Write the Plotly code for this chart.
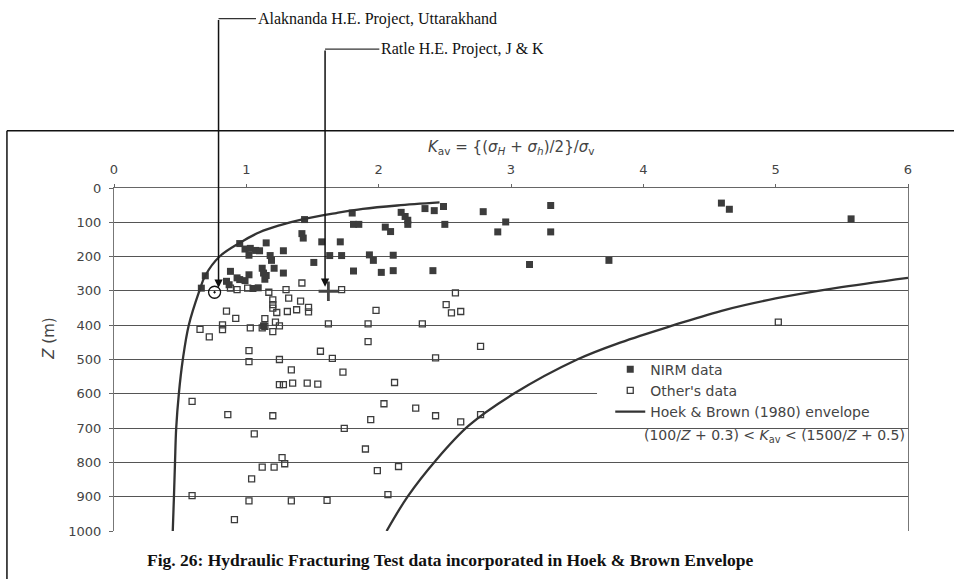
import plotly.graph_objects as go

# ---------------- data (K_av, Z in m) ----------------
nirm_k = [1.80, 1.81, 1.85, 2.17, 2.20, 2.22, 2.22, 2.05, 2.09, 2.35, 2.42, 2.49, 2.50, 2.79,
          1.71, 1.63, 1.72, 1.93, 1.96, 2.11, 1.81, 2.02, 2.11, 2.41, 2.96, 2.90, 3.30, 3.30,
          3.14, 3.74, 4.59, 4.65, 5.57, 1.44, 1.42, 1.43, 1.57, 1.15, 1.28, 1.51, 0.95, 0.99,
          1.03, 1.07, 1.10, 1.02, 1.18, 1.19, 1.21, 1.12, 1.13, 1.14, 1.28, 0.88, 1.02, 0.95,
          0.99, 0.85, 0.69, 0.66, 1.05, 1.09, 0.87, 0.93, 1.15, 1.13]
nirm_z = [73, 106, 106, 71, 83, 94, 106, 114, 127, 60, 66, 54, 106, 69,
          157, 197, 197, 195, 211, 196, 242, 246, 241, 241, 99, 128, 51, 128,
          223, 211, 44, 62, 90, 92, 133, 146, 157, 160, 183, 217, 162, 178,
          176, 182, 183, 196, 197, 211, 234, 234, 248, 266, 248, 243, 253, 267,
          270, 272, 256, 292, 293, 291, 282, 262, 255, 402]

other_k = [0.88, 0.93, 1.01, 1.17, 1.30, 1.42, 1.72, 1.32, 1.20, 1.41, 1.20, 1.23, 1.31, 1.38,
           1.47, 1.47, 0.85, 0.92, 0.65, 0.72, 0.82, 0.82, 1.03, 1.12, 1.14, 1.20, 1.14, 1.22,
           1.25, 1.98, 1.92, 2.58, 2.51, 2.55, 2.62, 1.62, 1.92, 2.33, 2.77, 2.43, 1.65, 1.73,
           2.12, 2.04, 2.28, 1.02, 1.02, 1.25, 1.34, 1.56, 1.25, 1.28, 1.35, 1.46, 1.54, 0.59,
           0.86, 1.20, 1.06, 1.74, 1.90, 1.27, 1.29, 1.12, 1.21, 1.04, 1.99, 2.15, 2.07, 0.59,
           1.02, 1.34, 1.61, 0.91, 1.94, 2.43, 2.62, 2.77, 5.02, 1.20]
other_z = [292, 296, 292, 304, 296, 277, 296, 321, 326, 330, 340, 363, 360, 355,
           348, 361, 359, 380, 412, 434, 399, 413, 408, 408, 403, 419, 381, 391,
           402, 357, 448, 306, 340, 364, 360, 396, 396, 396, 462, 495, 497, 537,
           567, 629, 642, 474, 506, 500, 530, 476, 573, 573, 569, 569, 572, 622,
           661, 664, 717, 701, 761, 786, 804, 814, 814, 848, 824, 812, 894, 897,
           912, 912, 911, 967, 675, 664, 682, 661, 391, 350]

# Hoek & Brown (1980) envelope
lower_k = [0.444, 0.453, 0.461, 0.47, 0.49, 0.52, 0.565, 0.645, 0.69, 0.80, 0.95, 1.10, 1.25,
           1.44, 1.68, 1.88, 2.14, 2.46]
lower_z = [1000, 900, 800, 700, 600, 500, 400, 300, 255, 199, 160, 129, 109, 90, 73, 61, 51, 42]
upper_k = [2.06, 2.22, 2.43, 2.68, 3.02, 3.50, 3.83, 4.23, 4.62, 5.00, 5.45, 6.0]
upper_z = [1000, 899, 795, 693, 600, 500, 450, 400, 355, 322, 292, 262]

# project sites
alak_k, alak_z = [0.76], [304]
ratle_k, ratle_z = [1.62], [301]
alak_arrow = (0.79, 291)
ratle_arrow = (1.595, 288)
alak_label = (1.073, -494)
ratle_label = (2.005, -405)

# white patch of the legend (hides the 600 m gridline behind it)
legend_patch_k = (3.65, 6.0)
legend_patch_z = (545, 655)

x_ticks = [0, 1, 2, 3, 4, 5, 6]
y_ticks = list(range(0, 1001, 100))

X_MAX, Z_MAX = 6.0, 1000.0
def px(k):
    return k / X_MAX
def py(z):
    return 1 - z / Z_MAX

INK = "#3c3c3c"
SANS = "DejaVu Sans"
SERIF = "Liberation Serif"

fig = go.Figure()
fig.add_trace(go.Scatter(x=nirm_k, y=nirm_z, mode="markers", name="NIRM data",
                         marker=dict(symbol="square", size=7, color=INK, line=dict(width=0))))
fig.add_trace(go.Scatter(x=other_k, y=other_z, mode="markers", name="Other's data",
                         marker=dict(symbol="square-open", size=6, color=INK, line=dict(width=1.3))))
fig.add_trace(go.Scatter(x=lower_k, y=lower_z, mode="lines", name="Hoek & Brown (1980) envelope",
                         line=dict(color="#333", width=2.3, shape="spline"), legendgroup="hb"))
fig.add_trace(go.Scatter(x=upper_k, y=upper_z, mode="lines", showlegend=False,
                         line=dict(color="#333", width=2.3, shape="spline"), legendgroup="hb"))
fig.add_trace(go.Scatter(x=alak_k, y=alak_z, mode="markers", showlegend=False,
                         marker=dict(symbol="circle-open-dot", size=12, color="#111", line=dict(width=1.3))))
fig.add_trace(go.Scatter(x=ratle_k, y=ratle_z, mode="markers", showlegend=False,
                         marker=dict(symbol="cross-thin", size=14, color="#111", line=dict(width=2.8))))

shapes = []
annotations = []
shapes.append(dict(type="rect", xref="x", yref="y", x0=legend_patch_k[0], x1=legend_patch_k[1],
                   y0=legend_patch_z[0], y1=legend_patch_z[1], fillcolor="white",
                   line=dict(width=0), layer="between"))
for head, label, text in [(alak_arrow, alak_label, "Alaknanda H.E. Project, Uttarakhand"),
                          (ratle_arrow, ratle_label, "Ratle H.E. Project, J &amp; K")]:
    annotations.append(dict(x=head[0], y=head[1], xref="x", yref="y", ax=head[0], ay=label[1],
                            axref="x", ayref="y", text="", showarrow=True, arrowhead=2,
                            arrowsize=1.1, arrowwidth=1.5, arrowcolor="#111", standoff=0))
    shapes.append(dict(type="line", xref="paper", yref="paper", x0=px(head[0]), x1=px(label[0]),
                       y0=py(label[1]), y1=py(label[1]), line=dict(color="#333", width=1.3)))
    annotations.append(dict(x=px(label[0]), y=py(label[1]), xref="paper", yref="paper",
                            text=text, showarrow=False, xanchor="left", yanchor="middle",
                            font=dict(family=SERIF, size=16, color="#111")))

# outer frame
frame_k, frame_z = -0.809, -167
shapes.append(dict(type="line", xref="paper", yref="paper", x0=px(frame_k), x1=px(frame_k),
                   y0=py(frame_z), y1=-0.2, line=dict(color="#111", width=1.5)))
shapes.append(dict(type="line", xref="paper", yref="paper", x0=px(frame_k), x1=1.2,
                   y0=py(frame_z), y1=py(frame_z), line=dict(color="#111", width=1.5)))

annotations.append(dict(x=0.5, y=1.1175, xref="paper", yref="paper", showarrow=False,
                        xanchor="center", yanchor="middle",
                        text="<i>K</i><sub>av</sub> = {(<i>σ</i><sub><i>H</i></sub> + <i>σ</i><sub><i>h</i></sub>)/2}/<i>σ</i><sub>v</sub>",
                        font=dict(family=SANS, size=15, color="#444")))
annotations.append(dict(x=-0.083, y=0.561, xref="paper", yref="paper", showarrow=False,
                        xanchor="center", yanchor="middle",
                        text="<i>Z</i> (m)", textangle=-90,
                        font=dict(family=SANS, size=15, color="#444")))
annotations.append(dict(x=0.999, y=0.278, xref="paper", yref="paper", showarrow=False,
                        xanchor="right", yanchor="middle",
                        text="(100/<i>Z</i> + 0.3) &lt; <i>K</i><sub>av</sub> &lt; (1500/<i>Z</i> + 0.5)",
                        font=dict(family=SANS, size=14, color="#444")))
annotations.append(dict(x=0.039, y=-0.0837, xref="paper", yref="paper", showarrow=False,
                        xanchor="left", yanchor="middle",
                        text="<b>Fig. 26: Hydraulic Fracturing Test data incorporated in Hoek &amp; Brown Envelope</b>",
                        font=dict(family=SERIF, size=17.5, color="#111")))

fig.update_layout(
    width=954, height=579,
    margin=dict(l=114, r=46, t=188, b=48),
    paper_bgcolor="white", plot_bgcolor="white",
    shapes=shapes, annotations=annotations,
    legend=dict(x=0.625, y=0.517, xanchor="left", yanchor="top", bgcolor="rgba(0,0,0,0)",
                font=dict(family=SANS, size=14, color="#444"), tracegroupgap=0),
    xaxis=dict(range=[0, 6], side="top", tickvals=x_ticks, showgrid=False, zeroline=False,
               showline=True, linecolor="#666", linewidth=1, ticks="outside", ticklen=3,
               tickcolor="#666", tickfont=dict(family=SANS, size=13, color="#444"),
               ticklabelstandoff=5),
    yaxis=dict(range=[1000, 0], tickvals=y_ticks, showgrid=True, gridcolor="#555", gridwidth=1.3,
               zeroline=False, showline=True, linecolor="#777", linewidth=1, mirror=True,
               ticks="outside", ticklen=4, tickcolor="#666",
               tickfont=dict(family=SANS, size=13, color="#444"), ticklabelstandoff=5),
)

fig.write_html("out.html")
